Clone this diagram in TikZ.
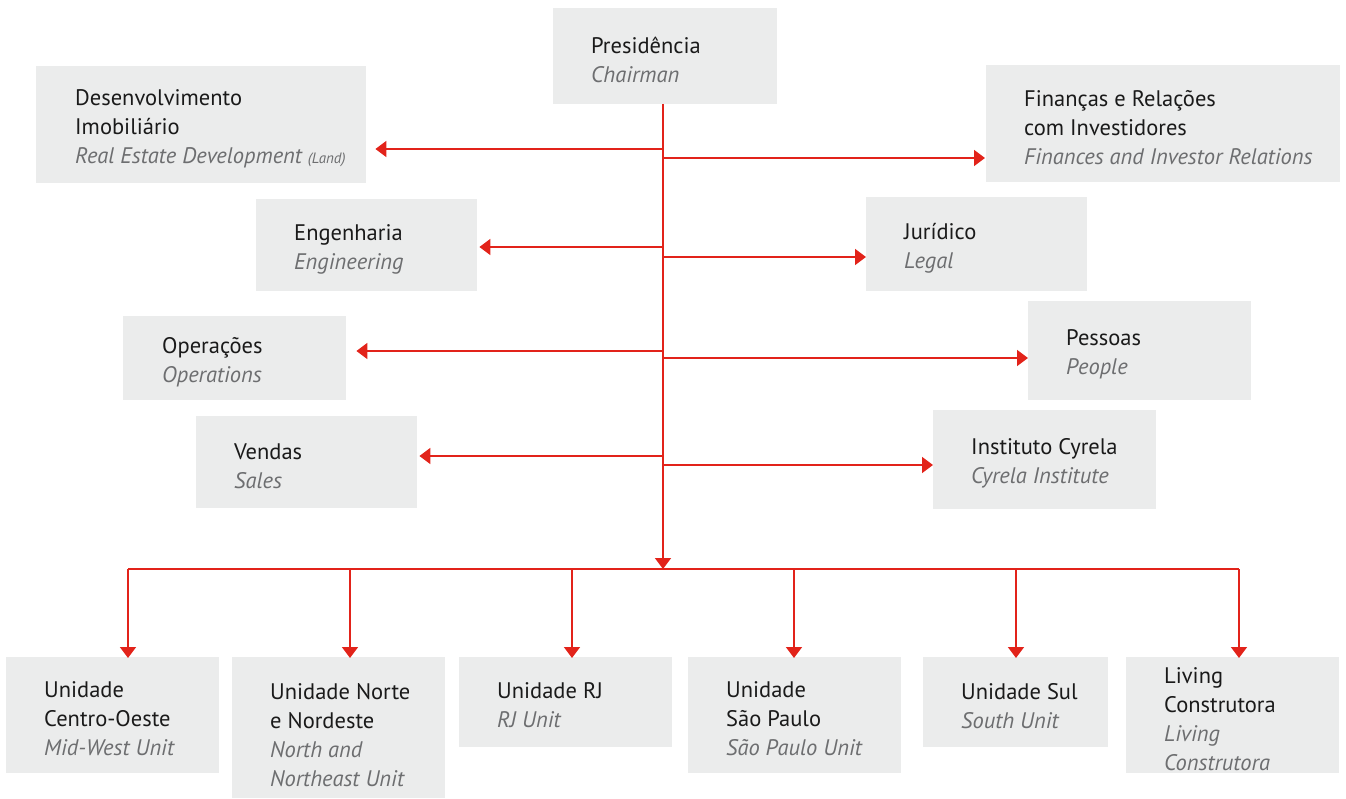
\documentclass[tikz,border=0pt]{standalone}
\usepackage{fontspec}
\setmainfont{PT Sans}
\usetikzlibrary{arrows.meta,calc}
\definecolor{cred}{HTML}{E2231A}
\definecolor{cbox}{HTML}{EBECEC}
\definecolor{cgrey}{HTML}{6D6E70}
\definecolor{ctext}{HTML}{1A1A1A}
\newcommand\engl[1]{{\color{cgrey}\itshape #1}}
\tikzset{
  box/.style={fill=cbox, draw=none, inner sep=0, anchor=north west},
  lbl/.style={anchor=west, align=left, inner sep=0, yshift=-2pt, font=\fontsize{22.5}{29}\selectfont, text=ctext},
  conn/.style={draw=cred, line width=1.8pt, -{Triangle[length=11pt,width=16pt]}},
  bus/.style={draw=cred, line width=1.8pt},
}
\begin{document}
\begin{tikzpicture}[x=1pt,y=-1pt]
\useasboundingbox (0,0) rectangle (1346,799);
% boxes
\node[box, minimum width=224, minimum height=96] (pres) at (553,8) {};
\node[box, minimum width=330, minimum height=117] (dev) at (36,66) {};
\node[box, minimum width=354, minimum height=117] (fin) at (986,65) {};
\node[box, minimum width=221, minimum height=92] (eng) at (256,199) {};
\node[box, minimum width=221, minimum height=94] (jur) at (866,197) {};
\node[box, minimum width=223, minimum height=84] (ope) at (123,316) {};
\node[box, minimum width=223, minimum height=99] (pes) at (1028,301) {};
\node[box, minimum width=221, minimum height=92] (ven) at (196,416) {};
\node[box, minimum width=223, minimum height=99] (ins) at (933,410) {};
\node[box, minimum width=213, minimum height=116] (uco) at (6,657) {};
\node[box, minimum width=213, minimum height=141] (unn) at (232,657) {};
\node[box, minimum width=213, minimum height=90] (urj) at (459,657) {};
\node[box, minimum width=213, minimum height=116] (usp) at (688,657) {};
\node[box, minimum width=185, minimum height=90] (usu) at (923,657) {};
\node[box, minimum width=213, minimum height=116] (liv) at (1126,657) {};
% texts
\node[lbl] (pres-t) at (591,58) {Presidência\\\engl{Chairman}};
\node[lbl] (dev-t) at (75,126.5) {Desenvolvimento\\Imobiliário\\\engl{Real Estate Development {\fontsize{15}{29}\selectfont(Land)}}};
\node[lbl] (fin-t) at (1024,125.5) {Finanças e Relações\\com Investidores\\\engl{Finances and Investor Relations}};
\node[lbl] (eng-t) at (294,247.5) {Engenharia\\\engl{Engineering}};
\node[lbl] (jur-t) at (904,246.5) {Jurídico\\\engl{Legal}};
\node[lbl] (ope-t) at (162,360.5) {Operações\\\engl{Operations}};
\node[lbl] (pes-t) at (1066,352.5) {Pessoas\\\engl{People}};
\node[lbl] (ven-t) at (234,464.5) {Vendas\\\engl{Sales}};
\node[lbl] (ins-t) at (971,461.5) {Instituto Cyrela\\\engl{Cyrela Institute}};
\node[lbl] (uco-t) at (44,717) {Unidade\\Centro-Oeste\\\engl{Mid-West Unit}};
\node[lbl] (unn-t) at (270,733.5) {Unidade Norte\\e Nordeste\\\engl{North and}\\\engl{Northeast Unit}};
\node[lbl] (urj-t) at (497,703.5) {Unidade RJ\\\engl{RJ Unit}};
\node[lbl] (usp-t) at (726,717) {Unidade\\São Paulo\\\engl{São Paulo Unit}};
\node[lbl] (usu-t) at (961,704.5) {Unidade Sul\\\engl{South Unit}};
\node[lbl] (liv-t) at (1164,717.5) {Living\\Construtora\\\engl{Living}\\\engl{Construtora}};
% connectors
\coordinate (top) at (663,104);
\coordinate (hub) at (663,569);
\draw[conn] (top) -- (hub);
\draw[conn] (663,149) -- ([xshift=9]dev.east |- 0,149);
\draw[conn] (663,158) -- ([xshift=-1]fin.west |- 0,158);
\draw[conn] (663,247) -- ([xshift=2]eng.east |- 0,247);
\draw[conn] (663,257) -- (jur.west |- 0,257);
\draw[conn] (663,351) -- ([xshift=10]ope.east |- 0,351);
\draw[conn] (663,358) -- (pes.west |- 0,358);
\draw[conn] (663,456) -- ([xshift=2]ven.east |- 0,456);
\draw[conn] (663,465) -- (ins.west |- 0,465);
\coordinate (d1) at (128,569);
\coordinate (d2) at (350,569);
\coordinate (d3) at (572,569);
\coordinate (d4) at (794,569);
\coordinate (d5) at (1016,569);
\coordinate (d6) at (1239,569);
\draw[bus] (d1) -- (d6);
\draw[conn] (d1) -- ([yshift=-1]d1 |- uco.north);
\draw[conn] (d2) -- ([yshift=-1]d2 |- unn.north);
\draw[conn] (d3) -- ([yshift=-1]d3 |- urj.north);
\draw[conn] (d4) -- ([yshift=-1]d4 |- usp.north);
\draw[conn] (d5) -- ([yshift=-1]d5 |- usu.north);
\draw[conn] (d6) -- ([yshift=-1]d6 |- liv.north);
\end{tikzpicture}
\end{document}
